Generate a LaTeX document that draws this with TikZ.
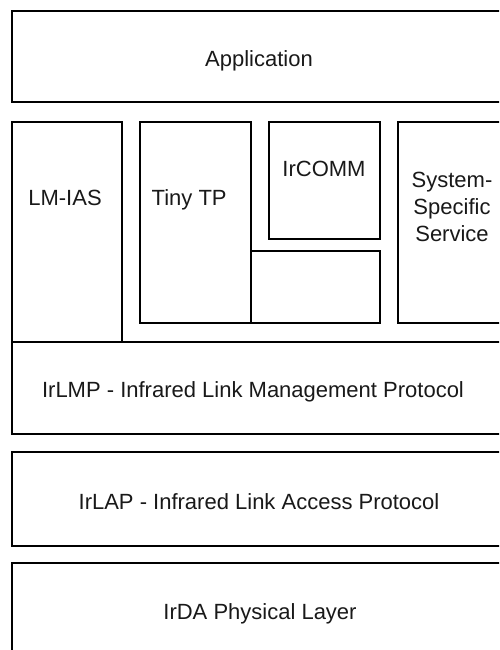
\documentclass[tikz,border=0pt]{standalone}
\usepackage{fontspec}
\setmainfont{Liberation Sans}
\begin{document}
\begin{tikzpicture}[x=1pt,y=-1pt,
  box/.style={draw=black, line width=2pt, fill=none, inner sep=0pt},
  thinbox/.style={draw=black, line width=1.6pt, fill=none, inner sep=0pt},
  lbl/.style={inner sep=0pt, anchor=base, font=\fontsize{22}{26}\selectfont, text=black!90}]
\useasboundingbox (0,0) rectangle (499,650);
\clip (0,0) rectangle (499,650);
\fill[white] (0,0) rectangle (499,650);
% boxes
\node[box, minimum width=496pt, minimum height=91pt] (app) at (260,56.5) {};
\node[box, minimum width=110pt, minimum height=220pt] (lmias) at (67,232) {};
\node[box, minimum width=111pt, minimum height=201pt] (tinytp) at (195.5,222.5) {};
\node[box, minimum width=111pt, minimum height=117pt] (ircomm) at (324.5,180.5) {};
\node[thinbox, minimum width=129pt, minimum height=72pt] (sub) at (315.5,287) {};
\node[box, minimum width=110pt, minimum height=201pt] (sys) at (453,222.5) {};
\node[box, minimum width=496pt, minimum height=92pt] (irlmp) at (260,388) {};
\node[box, minimum width=496pt, minimum height=94pt] (irlap) at (260,499) {};
\node[box, minimum width=496pt, minimum height=120pt] (irda) at (260,623) {};
% labels
\node[lbl] (tapp) at (259,67) {Application};
\node[lbl] (tlmias) at (65,205) {LM-IAS};
\node[lbl, anchor=base west] (ttiny) at (151.5,205) {Tiny TP};
\node[lbl] (tircomm) at (324,176) {IrCOMM};
\node[lbl] (tsys1) at (452,187.5) {System-};
\node[lbl] (tsys2) at (452,214) {Specific};
\node[lbl] (tsys3) at (452,241) {Service};
\node[lbl] (tirlmp) at (253,397.5) {IrLMP - Infrared Link Management Protocol};
\node[lbl] (tirlap) at (259,509) {IrLAP - Infrared Link Access Protocol};
\node[lbl] (tirda) at (260,619) {IrDA Physical Layer};
\end{tikzpicture}
\end{document}
